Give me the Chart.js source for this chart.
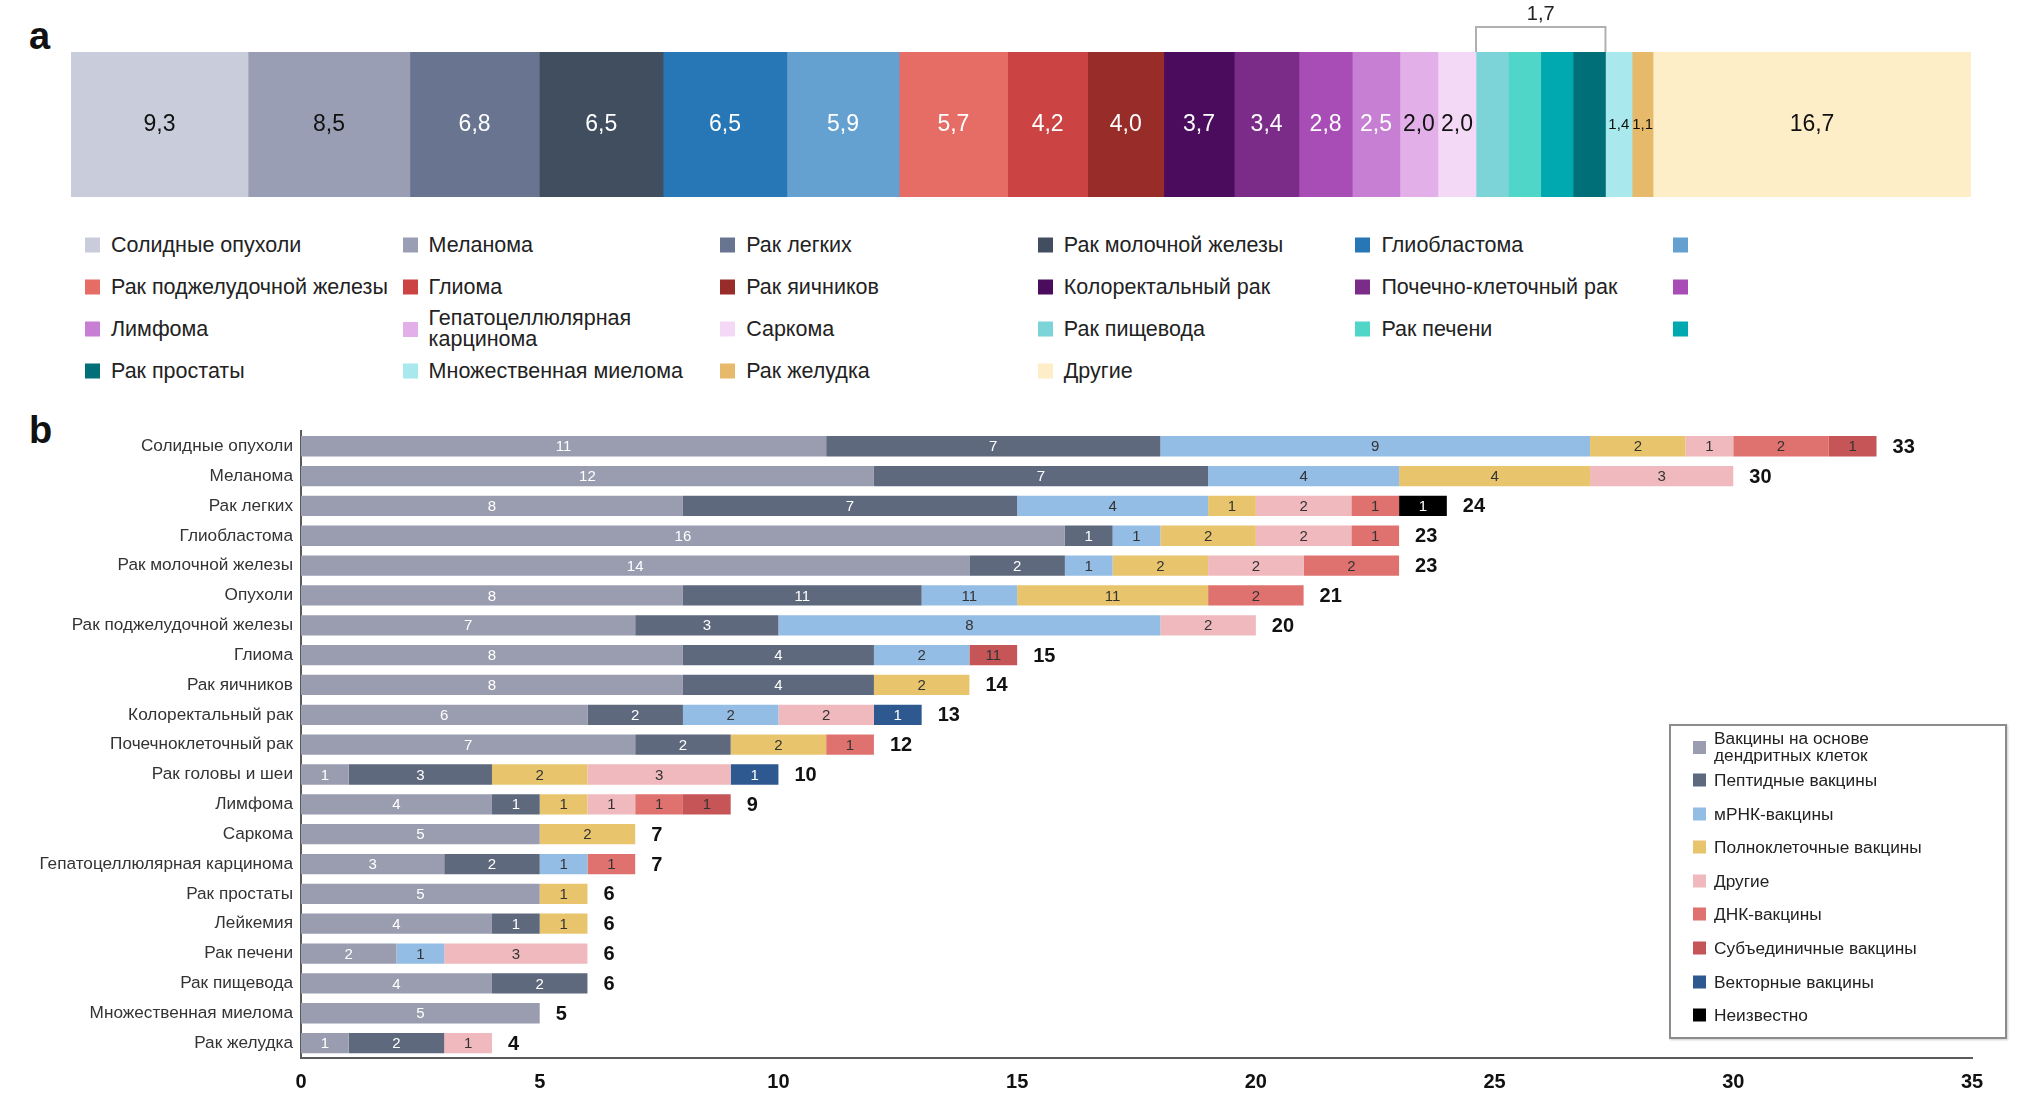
<!DOCTYPE html>
<html>
<head>
<meta charset="utf-8">
<script src="https://cdn.jsdelivr.net/npm/chart.js@4.4.0/dist/chart.umd.min.js"></script>
<style>
  html, body { margin: 0; padding: 0; background: #fff; }
  #page { position: relative; width: 2023px; height: 1118px; overflow: hidden;
          font-family: "Liberation Sans", Arial, sans-serif; color: #222; }
  .letter { position: absolute; font-weight: bold; font-size: 38px; line-height: 1; color: #111; }
  #wrapA { position: absolute; left: 0; top: 0; width: 2023px; height: 205px; }
  #wrapB { position: absolute; left: 0; top: 413px; width: 2023px; height: 705px; }
  .item { position: absolute; display: flex; align-items: center; transform: translateY(-50%); white-space: nowrap; }
  .item .sw { flex: none; }
  .legA { font-size: 21.5px; line-height: 21px; }
  .legA .sw { width: 15px; height: 15px; margin-right: 11px; }
  .legB { font-size: 17.3px; line-height: 17px; }
  .legB .sw { width: 13px; height: 13px; margin-right: 8px; }
  #boxB { position: absolute; left: 1669px; top: 724px; width: 334px; height: 311px;
          border: 2px solid #8c8c8c; box-shadow: 1px 1px 2px rgba(0,0,0,0.2); background: #fff; }
</style>
</head>
<body>
<div id="page">
  <div class="letter" style="left:29px; top:17px;">a</div>
  <div class="letter" style="left:29px; top:411px;">b</div>
  <div id="wrapA"><canvas id="shareChart" width="2023" height="205"></canvas></div>
  <div id="wrapB"><canvas id="trialChart" width="2023" height="705"></canvas></div>
  <div id="boxB"></div>
</div>
<script>
// ---------------- DATA: panel a (share of trials, %) ----------------
const shareNames = [
    "Солидные опухоли", "Меланома", "Рак легких", "Рак молочной железы", "Глиобластома", "",
    "Рак поджелудочной железы", "Глиома", "Рак яичников", "Колоректальный рак", "Почечно-клеточный рак", "",
    "Лимфома", "Гепатоцеллюлярная карцинома", "Саркома", "Рак пищевода", "Рак печени", "",
    "Рак простаты", "Множественная миелома", "Рак желудка", "Другие"
];
const shareValues = [9.3, 8.5, 6.8, 6.5, 6.5, 5.9, 5.7, 4.2, 4.0, 3.7, 3.4, 2.8, 2.5, 2.0, 2.0,
                     1.7, 1.7, 1.7, 1.7, 1.4, 1.1, 16.7];
// the four segments sharing one bracketed label
const bracketFirst = 15;
const bracketLast = 18;

// ---------------- DATA: panel b (number of trials) ----------------
const indications = [
    "Солидные опухоли", "Меланома", "Рак легких", "Глиобластома", "Рак молочной железы",
    "Опухоли", "Рак поджелудочной железы", "Глиома", "Рак яичников", "Колоректальный рак",
    "Почечноклеточный рак", "Рак головы и шеи", "Лимфома", "Саркома",
    "Гепатоцеллюлярная карцинома", "Рак простаты", "Лейкемия", "Рак печени", "Рак пищевода",
    "Множественная миелома", "Рак желудка"
];
const vaccineTypes = [
    "Вакцины на основе дендритных клеток", "Пептидные вакцины", "мРНК-вакцины",
    "Полноклеточные вакцины", "Другие", "ДНК-вакцины", "Субъединичные вакцины",
    "Векторные вакцины", "Неизвестно"
];
const dendritic = [11, 12, 8, 16, 14, 8, 7, 8, 8, 6, 7, 1, 4, 5, 3, 5, 4, 2, 4, 5, 1];
const peptide   = [7, 7, 7, 1, 2, 5, 3, 4, 4, 2, 2, 3, 1, 0, 2, 0, 1, 0, 2, 0, 2];
const mrna      = [9, 4, 4, 1, 1, 2, 8, 2, 0, 2, 0, 0, 0, 0, 1, 0, 0, 1, 0, 0, 0];
const wholeCell = [2, 4, 1, 2, 2, 4, 0, 0, 2, 0, 2, 2, 1, 2, 0, 1, 1, 0, 0, 0, 0];
const otherVac  = [1, 3, 2, 2, 2, 0, 2, 0, 0, 2, 0, 3, 1, 0, 0, 0, 0, 3, 0, 0, 1];
const dna       = [2, 0, 1, 1, 2, 2, 0, 0, 0, 0, 1, 0, 1, 0, 1, 0, 0, 0, 0, 0, 0];
const subunit   = [1, 0, 0, 0, 0, 0, 0, 1, 0, 0, 0, 0, 1, 0, 0, 0, 0, 0, 0, 0, 0];
const vector    = [0, 0, 0, 0, 0, 0, 0, 0, 0, 1, 0, 1, 0, 0, 0, 0, 0, 0, 0, 0, 0];
const unknown   = [0, 0, 1, 0, 0, 0, 0, 0, 0, 0, 0, 0, 0, 0, 0, 0, 0, 0, 0, 0, 0];
const trialSeries = [dendritic, peptide, mrna, wholeCell, otherVac, dna, subunit, vector, unknown];

// numbers printed in the source figure that differ from the segment value
const printedLabels = [
    { row: "Опухоли", series: [1, 2, 3], text: "11" },
    { row: "Глиома", series: [6], text: "11" }
];

// ---------------- STYLES ----------------
const shareColors = [
    "#c9ccda", "#9a9eb4", "#687490", "#404e60", "#2777b7", "#64a1d1",
    "#e66c66", "#cc4343", "#982c29", "#4b0c5e", "#7a2c88", "#a84db5",
    "#c67fd3", "#e2afe9", "#f4d9f7", "#7dd4d8", "#4fd6c8", "#00a9b0",
    "#006f78", "#a9e8ec", "#e7b96a", "#feeec8"
];
const shareDarkText = [0, 1, 13, 14, 19, 20, 21];
const vaccineColors = ["#9a9db0", "#5e697d", "#94bde5", "#e8c46c", "#f0b9bd",
                       "#df716e", "#c65558", "#2d5890", "#000000"];
const vaccineWhiteText = [0, 1, 7, 8];

const FONT = "'Liberation Sans', Arial, sans-serif";
Chart.defaults.font.family = FONT;

const fmt = v => v.toFixed(1).replace(".", ",");

function splitLong(text) {
    if (text.length <= 25) return [text];
    const mid = text.length / 2;
    let best = -1;
    for (let i = 0; i < text.length; i++) {
        if (text[i] === " " && (best < 0 || Math.abs(i - mid) < Math.abs(best - mid))) best = i;
    }
    return [text.slice(0, best), text.slice(best + 1)];
}

function addItem(cls, left, centerY, color, text) {
    const item = document.createElement("div");
    item.className = "item " + cls;
    item.style.left = left + "px";
    item.style.top = centerY + "px";
    const sw = document.createElement("div");
    sw.className = "sw";
    sw.style.background = color;
    const label = document.createElement("div");
    label.innerHTML = splitLong(text).join("<br>");
    item.appendChild(sw);
    item.appendChild(label);
    document.getElementById("page").appendChild(item);
}

// ---------------- PANEL A ----------------
const shareLabels = {
    id: "shareLabels",
    afterDatasetsDraw(chart) {
        const ctx = chart.ctx;
        ctx.save();
        ctx.textAlign = "center";
        ctx.textBaseline = "middle";
        chart.data.datasets.forEach((ds, i) => {
            if (i >= bracketFirst && i <= bracketLast) return;
            const bar = chart.getDatasetMeta(i).data[0];
            const w = bar.x - bar.base;
            ctx.font = (w < 30 ? 15 : 23) + "px " + FONT;
            ctx.fillStyle = shareDarkText.includes(i) ? "#111" : "#fff";
            ctx.fillText(fmt(ds.data[0]), (bar.x + bar.base) / 2, bar.y);
        });
        // bracket over the grouped segments
        const a = chart.getDatasetMeta(bracketFirst).data[0];
        const b = chart.getDatasetMeta(bracketLast).data[0];
        const top = chart.chartArea.top;
        ctx.strokeStyle = "#b0b0b0";
        ctx.lineWidth = 2;
        ctx.beginPath();
        ctx.moveTo(a.base, top);
        ctx.lineTo(a.base, top - 25);
        ctx.lineTo(b.x, top - 25);
        ctx.lineTo(b.x, top);
        ctx.stroke();
        ctx.fillStyle = "#222";
        ctx.font = "20px " + FONT;
        ctx.fillText(fmt(shareValues[bracketFirst]), (a.base + b.x) / 2, top - 38);
        ctx.restore();
    }
};

new Chart(document.getElementById("shareChart"), {
    type: "bar",
    data: {
        labels: [""],
        datasets: shareValues.map((v, i) => ({
            label: shareNames[i],
            data: [v],
            backgroundColor: shareColors[i],
            borderWidth: 0,
            barPercentage: 1,
            categoryPercentage: 1
        }))
    },
    options: {
        indexAxis: "y",
        responsive: false,
        animation: false,
        layout: { padding: { left: 71, right: 52, top: 52, bottom: 8 } },
        plugins: { legend: { display: false }, tooltip: { enabled: false } },
        scales: {
            x: { stacked: true, display: false, min: 0,
                 max: shareValues.reduce((s, v) => s + v, 0) },
            y: { stacked: true, display: false }
        }
    },
    plugins: [shareLabels]
});

shareNames.forEach((name, i) => {
    addItem("legA", 85 + (i % 6) * 317.6, 245 + Math.floor(i / 6) * 42, shareColors[i], name);
});

// ---------------- PANEL B ----------------
const trialLabels = {
    id: "trialLabels",
    afterDatasetsDraw(chart) {
        const ctx = chart.ctx;
        ctx.save();
        ctx.textAlign = "center";
        ctx.textBaseline = "middle";
        ctx.font = "15px " + FONT;
        chart.data.datasets.forEach((ds, s) => {
            chart.getDatasetMeta(s).data.forEach((bar, r) => {
                const v = ds.data[r];
                if (!v) return;
                let text = String(v);
                printedLabels.forEach(p => {
                    if (p.row === indications[r] && p.series.includes(s)) text = p.text;
                });
                ctx.fillStyle = vaccineWhiteText.includes(s) ? "#fff" : "#333";
                ctx.fillText(text, (bar.x + bar.base) / 2, bar.y + 1);
            });
        });
        // totals
        ctx.textAlign = "left";
        ctx.font = "bold 20px " + FONT;
        ctx.fillStyle = "#111";
        indications.forEach((name, r) => {
            const total = trialSeries.reduce((s, arr) => s + arr[r], 0);
            ctx.fillText(String(total), chart.scales.x.getPixelForValue(total) + 16,
                         chart.scales.y.getPixelForValue(r) + 1);
        });
        ctx.restore();
    }
};

new Chart(document.getElementById("trialChart"), {
    type: "bar",
    data: {
        labels: indications,
        datasets: trialSeries.map((arr, s) => ({
            label: vaccineTypes[s],
            data: arr,
            backgroundColor: vaccineColors[s],
            borderWidth: 0,
            barPercentage: 0.68,
            categoryPercentage: 1
        }))
    },
    options: {
        indexAxis: "y",
        responsive: false,
        animation: false,
        layout: { padding: { left: 0, right: 51, top: 18, bottom: 0 } },
        plugins: { legend: { display: false }, tooltip: { enabled: false } },
        scales: {
            x: {
                stacked: true, min: 0, max: 35,
                ticks: { stepSize: 5, color: "#111", padding: 12,
                         font: { size: 20, weight: "bold" } },
                grid: { display: false, drawTicks: false },
                border: { display: true, color: "#5a5a5a", width: 2 },
                afterFit: scale => { scale.height = 60; }
            },
            y: {
                stacked: true,
                ticks: { color: "#333", padding: 8, autoSkip: false, font: { size: 17.2 } },
                grid: { display: false, drawTicks: false },
                border: { display: true, color: "#5a5a5a", width: 2 },
                afterFit: scale => { scale.width = 301; }
            }
        }
    },
    plugins: [trialLabels]
});

vaccineTypes.forEach((name, i) => {
    addItem("legB", 1693, i === 0 ? 747 : 780 + (i - 1) * 33.6, vaccineColors[i], name);
});
</script>
</body>
</html>
